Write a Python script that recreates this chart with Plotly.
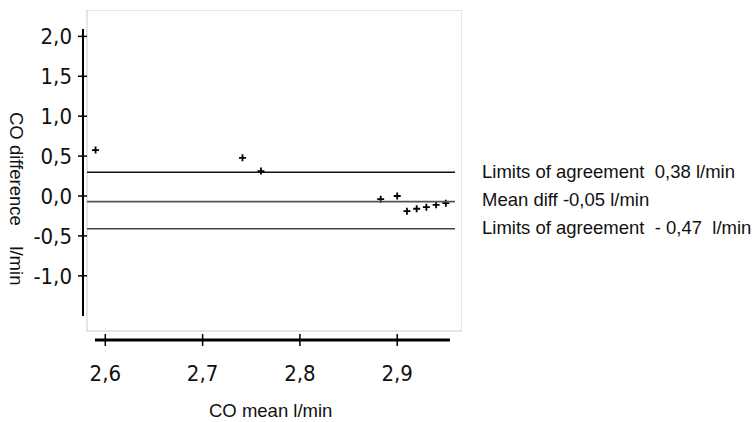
import plotly.graph_objects as go

# ---- data ----
co_mean = [2.59, 2.741, 2.76, 2.883, 2.90, 2.91, 2.92, 2.93, 2.94, 2.95]
co_diff = [0.575, 0.479, 0.312, -0.04, 0.0, -0.19, -0.16, -0.14, -0.11, -0.09]

upper_loa = 0.297
mean_diff = -0.071
lower_loa = -0.41

x_tickvals = [2.6, 2.7, 2.8, 2.9]
x_ticktext = ["2,6", "2,7", "2,8", "2,9"]
y_tickvals = [2.0, 1.5, 1.0, 0.5, 0.0, -0.5, -1.0]
y_ticktext = ["2,0", "1,5", "1,0", "0,5", "0,0", "-0,5", "-1,0"]

label_upper = "Limits of agreement\u00a0\u00a00,38 l/min"
label_mean = "Mean diff -0,05 l/min"
label_lower = "Limits of agreement\u00a0\u00a0- 0,47\u00a0\u00a0l/min"

# ---- geometry ----
W, H = 754, 422
L, R, T, B = 83, 292, 10, 82
XR = [2.57708, 2.9666]
YR = [-1.8045, 2.3308]
pw = W - L - R
ph = H - T - B

def xpx(px):
    return XR[0] + (px - L) / pw * (XR[1] - XR[0])

def ypx(py):
    return YR[1] - (py - T) / ph * (YR[1] - YR[0])

tick_font = dict(family="Liberation Sans Narrow, DejaVu Sans Condensed, Arial Narrow, sans-serif",
                 size=22, color="#111")
txt_font = dict(family="Liberation Sans, Arial, sans-serif", size=18.5, color="#111")

fig = go.Figure()

shapes = []
# frame
shapes.append(dict(type="rect", xref="x", yref="y", x0=xpx(87), x1=XR[1], y0=ypx(331), y1=YR[1],
                   line=dict(color="#cccccc", width=1), layer="below"))
# reference lines
for val, col in [(upper_loa, "#111"), (mean_diff, "#555"), (lower_loa, "#444")]:
    shapes.append(dict(type="line", xref="x", yref="y", x0=xpx(87), x1=xpx(455), y0=val, y1=val,
                       line=dict(color=col, width=1.6)))
# y axis line
shapes.append(dict(type="line", xref="paper", yref="y", x0=0, x1=0, y0=ypx(29), y1=ypx(316),
                   line=dict(color="#000", width=2)))
for v in y_tickvals:
    shapes.append(dict(type="line", xref="paper", yref="y", x0=(78 - L) / pw, x1=(87 - L) / pw,
                       y0=v, y1=v, line=dict(color="#000", width=1.5)))
# x axis line
shapes.append(dict(type="line", xref="x", yref="paper", x0=xpx(95), x1=xpx(450), y0=0, y1=0,
                   line=dict(color="#000", width=2.8)))
for v in x_tickvals:
    shapes.append(dict(type="line", xref="x", yref="paper", x0=v, x1=v,
                       y0=6 / ph, y1=-6 / ph, line=dict(color="#000", width=1.5)))

fig.add_trace(go.Scatter(
    x=co_mean, y=co_diff, mode="markers",
    marker=dict(symbol="cross-thin", size=5, line=dict(color="#000", width=1.8), color="#000"),
    showlegend=False, hoverinfo="skip"))

annotations = [
    dict(text=label_upper, xref="paper", yref="y", x=(480 - L) / pw, y=ypx(171),
         xanchor="left", yanchor="middle", showarrow=False, font=txt_font),
    dict(text=label_mean, xref="paper", yref="y", x=(480 - L) / pw, y=ypx(199),
         xanchor="left", yanchor="middle", showarrow=False, font=txt_font),
    dict(text=label_lower, xref="paper", yref="y", x=(480 - L) / pw, y=ypx(227),
         xanchor="left", yanchor="middle", showarrow=False, font=txt_font),
    dict(text="CO mean l/min", xref="paper", yref="paper", x=(270 - L) / pw, y=-(410 - T - ph) / ph,
         xanchor="center", yanchor="middle", showarrow=False, font=txt_font),
    dict(text="CO difference\u00a0\u00a0\u00a0\u00a0l/min", xref="paper", yref="paper",
         x=(16.5 - L) / pw, y=1 - (198.5 - T) / ph, textangle=90,
         xanchor="center", yanchor="middle", showarrow=False, font=txt_font),
]

fig.update_layout(
    width=W, height=H,
    margin=dict(l=L, r=R, t=T, b=B, pad=0),
    paper_bgcolor="white", plot_bgcolor="white",
    shapes=shapes, annotations=annotations,
    xaxis=dict(range=XR, showgrid=False, zeroline=False, showline=False, ticks="",
               tickvals=x_tickvals, ticktext=x_ticktext, tickfont=tick_font,
               ticklabelstandoff=18, fixedrange=True),
    yaxis=dict(range=YR, showgrid=False, zeroline=False, showline=False, ticks="",
               tickvals=y_tickvals, ticktext=y_ticktext, tickfont=tick_font,
               ticklabelstandoff=10, fixedrange=True),
)

fig.write_html("out.html")
